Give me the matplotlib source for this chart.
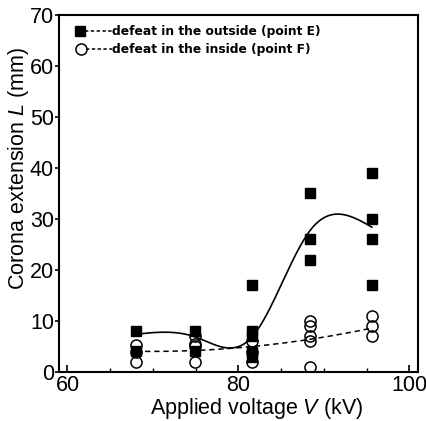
import numpy as np
import matplotlib
matplotlib.use("Agg")
import matplotlib.pyplot as plt
from matplotlib.lines import Line2D
from matplotlib.legend_handler import HandlerLine2D

plt.rcParams['font.family'] = ['Liberation Sans', 'DejaVu Sans']
plt.rcParams['mathtext.fontset'] = 'custom'
plt.rcParams['mathtext.it'] = 'Liberation Sans:italic'
plt.rcParams['mathtext.rm'] = 'Liberation Sans'

# ---- data ----
voltages = [68.0, 74.9, 81.6, 88.4, 95.6]
outside_E = [[8, 4.2], [8, 4.2], [17, 8, 7, 4, 3], [35, 26, 22], [39, 30, 26, 17]]
inside_F = [[5.3, 4, 2], [7, 5.5, 5, 2], [6, 4, 2], [10, 9, 7, 6, 1], [11, 9, 7]]
trend_E = [7.4, 6.9, 6.9, 27.8, 28.4]
trend_F = [3.9, 4.6, 4.8, 6.3, 8.7]
label_E = "defeat in the outside (point E)"
label_F = "defeat in the inside (point F)"


def natural_spline(x, y, xs):
    x = np.asarray(x, float); y = np.asarray(y, float)
    n = len(x)
    h = np.diff(x)
    A = np.zeros((n, n)); b = np.zeros(n)
    A[0, 0] = 1; A[-1, -1] = 1
    for i in range(1, n - 1):
        A[i, i - 1] = h[i - 1]; A[i, i] = 2 * (h[i - 1] + h[i]); A[i, i + 1] = h[i]
        b[i] = 3 * ((y[i + 1] - y[i]) / h[i] - (y[i] - y[i - 1]) / h[i - 1])
    c = np.linalg.solve(A, b)
    bb = (y[1:] - y[:-1]) / h - h * (2 * c[:-1] + c[1:]) / 3
    d = (c[1:] - c[:-1]) / (3 * h)
    idx = np.clip(np.searchsorted(x, xs) - 1, 0, n - 2)
    t = xs - x[idx]
    return y[idx] + bb[idx] * t + c[idx] * t ** 2 + d[idx] * t ** 3


class LeftMarkerHandler(HandlerLine2D):
    def create_artists(self, legend, orig_handle, xdescent, ydescent,
                       width, height, fontsize, trans):
        y = (height - ydescent) / 2
        ms_px = orig_handle.get_markersize()
        x0 = -xdescent + ms_px / 2
        line = Line2D([x0 + ms_px / 2, -xdescent + width], [y, y])
        self.update_prop(line, orig_handle, legend)
        line.set_marker('None')
        mk = Line2D([x0], [y])
        self.update_prop(mk, orig_handle, legend)
        mk.set_linestyle('None')
        line.set_transform(trans)
        mk.set_transform(trans)
        return [line, mk]


fig = plt.figure(figsize=(4.27, 4.21), dpi=100)
ax = fig.add_axes([0.138, 0.1164, 0.841, 0.848])

for v, ys in zip(voltages, outside_E):
    ax.plot([v] * len(ys), ys, 's', color='black', ms=7.0, zorder=3)
for v, ys in zip(voltages, inside_F):
    ax.plot([v] * len(ys), ys, 'o', mfc='none', mec='black', mew=1.1, ms=8, zorder=4)

xs = np.linspace(voltages[0], voltages[-1], 300)
ax.plot(xs, natural_spline(voltages, trend_E, xs), '-', color='black', lw=1.2, zorder=2)
coef = np.polyfit(voltages, trend_F, 2)
ax.plot(xs, np.polyval(coef, xs), '--', color='black', lw=1.1, dashes=(3.5, 2.5), zorder=2)

ax.set_xlim(59, 101)
ax.set_ylim(0, 70)
ax.set_xticks([60, 80, 100])
ax.set_xticks(np.arange(60, 101, 5), minor=True)
ax.set_yticks(np.arange(0, 71, 10))
ax.tick_params(axis='x', which='major', direction='in', length=5, width=1.2, labelsize=15.5, pad=2)
ax.tick_params(axis='x', which='minor', direction='in', length=3, width=1.0)
ax.tick_params(axis='y', which='major', direction='out', length=3, width=1.2, labelsize=15.5, pad=0.5)
for s in ax.spines.values():
    s.set_linewidth(1.5)

ax.set_xlabel("Applied voltage $\\it{V}$ (kV)", fontsize=15.5)
ax.set_ylabel("Corona extension $\\it{L}$ (mm)", fontsize=15.5)
ax.xaxis.set_label_coords(0.552, -0.067)
ax.yaxis.set_label_coords(-0.078, 0.571)

hE = Line2D([], [], color='black', marker='s', ms=7.0, ls=(0, (2.2, 1.6)), lw=1.1)
hF = Line2D([], [], color='black', marker='o', mfc='none', mec='black', mew=1.1, ms=8, ls=(0, (2.2, 1.6)), lw=1.1)
leg = ax.legend([hE, hF], [label_E, label_F], loc='upper left', bbox_to_anchor=(0.045, 0.972),
                frameon=False, handlelength=3.0, handletextpad=0.05, labelspacing=0.45,
                borderaxespad=0, borderpad=0,
                handler_map={hE: LeftMarkerHandler(), hF: LeftMarkerHandler()},
                prop={'family': 'DejaVu Sans', 'weight': 'bold', 'size': 8.8})

fig.savefig("out.png", dpi=100)
